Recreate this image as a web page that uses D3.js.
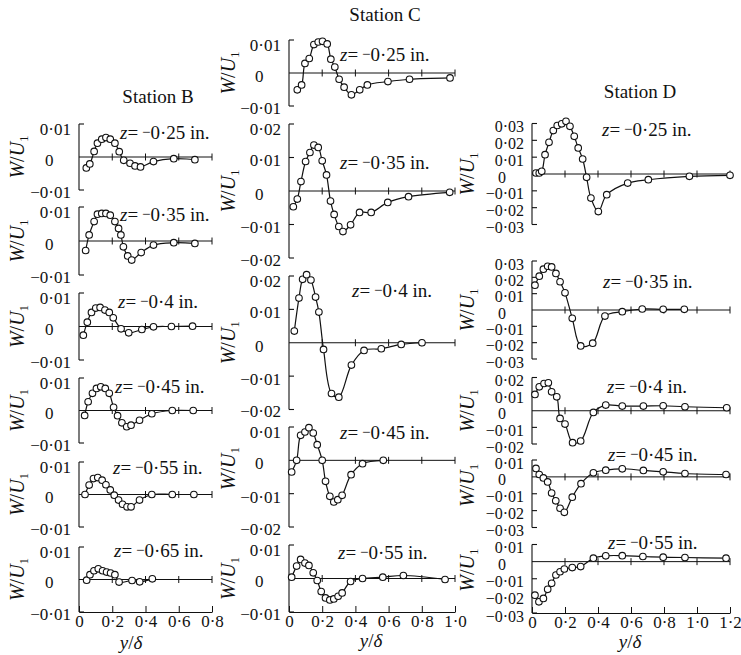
<!DOCTYPE html>
<html>
<head>
<meta charset="utf-8">
<script src="https://cdn.jsdelivr.net/npm/d3@7"></script>
<style>
  html, body { margin: 0; padding: 0; background: #fff; }
  svg, svg text { font-family: "Liberation Serif", "Times New Roman", "DejaVu Serif", serif; }
</style>
</head>
<body>
<svg id="chart" width="741" height="655" font-family="Liberation Serif, Times New Roman, serif"></svg>
<script>
// ---- Measured spanwise velocity profiles W/U1 against y/delta ----
// Each array holds [y/delta, W/U1] pairs for one spanwise position z.

// Station B
const zStationB = [-0.25, -0.35, -0.4, -0.45, -0.55, -0.65];
const stationB_z025 = [[0.044,-0.0033],[0.065,-0.0021],[0.091,0.0017],[0.111,0.0042],[0.137,0.0054],[0.162,0.0059],[0.188,0.0054],[0.216,0.0042],[0.242,0.0016],[0.269,-0.001],[0.307,-0.0019],[0.337,-0.0027],[0.37,-0.003],[0.448,-0.0014],[0.57,-0.0005],[0.697,-0.0008]];
const stationB_z035 = [[0.04,-0.0028],[0.061,0.0018],[0.091,0.0057],[0.111,0.0079],[0.137,0.0081],[0.162,0.0081],[0.188,0.0076],[0.216,0.0057],[0.238,0.0037],[0.252,0.0018],[0.267,-0.0017],[0.293,-0.0044],[0.317,-0.0056],[0.374,-0.0034],[0.448,-0.0012],[0.57,-0.0005],[0.697,-0.0007]];
const stationB_z040 = [[0.026,-0.0026],[0.05,0.0013],[0.075,0.0042],[0.101,0.0055],[0.127,0.0057],[0.156,0.0049],[0.182,0.0042],[0.206,0.0026],[0.253,-0.0007],[0.299,-0.0019],[0.378,-0.0009],[0.448,-0.0001],[0.556,0],[0.683,0.0001]];
const stationB_z045 = [[0.034,-0.0015],[0.055,0.0027],[0.081,0.0053],[0.105,0.0068],[0.131,0.0073],[0.158,0.0068],[0.182,0.0053],[0.208,0.001],[0.232,-0.0016],[0.258,-0.0038],[0.287,-0.005],[0.313,-0.0045],[0.364,-0.003],[0.438,-0.001],[0.561,0],[0.687,0]];
const stationB_z055 = [[0.036,0],[0.061,0.0029],[0.087,0.0049],[0.113,0.0052],[0.139,0.0044],[0.162,0.003],[0.188,0.0014],[0.212,-0.0002],[0.238,-0.0017],[0.262,-0.003],[0.289,-0.0038],[0.313,-0.0038],[0.364,-0.0017],[0.438,0],[0.561,0],[0.691,0]];
const stationB_z065 = [[0.046,-0.0002],[0.066,0.0015],[0.09,0.0027],[0.116,0.0033],[0.142,0.0027],[0.166,0.0023],[0.19,0.002],[0.216,0.0015],[0.241,-0.0008],[0.319,-0.0003],[0.365,-0.0007],[0.441,0.0002]];

// Station C
const zStationC = [-0.25, -0.35, -0.4, -0.45, -0.55];
const stationC_z025 = [[0.05,-0.0051],[0.076,-0.0036],[0.096,0.0029],[0.122,0.0044],[0.15,0.0086],[0.176,0.0094],[0.202,0.0096],[0.23,0.0088],[0.252,0.0042],[0.276,0.0018],[0.302,-0.0019],[0.332,-0.0043],[0.376,-0.0066],[0.426,-0.0051],[0.472,-0.0036],[0.596,-0.0026],[0.726,-0.0019],[0.97,-0.0015]];
const stationC_z035 = [[0.026,-0.0047],[0.05,-0.0024],[0.072,0.0028],[0.1,0.0088],[0.126,0.0115],[0.15,0.0137],[0.176,0.013],[0.2,0.009],[0.226,0.0048],[0.25,-0.003],[0.272,-0.007],[0.3,-0.0106],[0.325,-0.0121],[0.371,-0.0101],[0.425,-0.0064],[0.495,-0.0064],[0.595,-0.0034],[0.72,-0.0017],[0.968,-0.0004]];
const stationC_z040 = [[0.032,0.0035],[0.06,0.0134],[0.082,0.019],[0.106,0.0204],[0.132,0.0188],[0.16,0.0137],[0.18,0.0092],[0.208,-0.002],[0.256,-0.0152],[0.3,-0.0163],[0.376,-0.0067],[0.452,-0.0023],[0.556,-0.0018],[0.676,-0.0005],[0.801,0]];
const stationC_z045 = [[0.016,-0.0035],[0.046,0],[0.07,0.0075],[0.096,0.0085],[0.12,0.0098],[0.146,0.0082],[0.17,0.0047],[0.2,0],[0.22,-0.0063],[0.246,-0.0108],[0.27,-0.0125],[0.294,-0.0118],[0.32,-0.0105],[0.374,-0.0043],[0.443,-0.001],[0.568,0]];
const stationC_z055 = [[0.016,0.0004],[0.046,0.0037],[0.07,0.0057],[0.096,0.0046],[0.12,0.0039],[0.146,0.0017],[0.17,-0.0006],[0.194,-0.0039],[0.22,-0.0058],[0.246,-0.0064],[0.27,-0.0061],[0.296,-0.0053],[0.32,-0.0043],[0.371,-0.0009],[0.443,0],[0.565,0.0004],[0.689,0.0009],[0.94,-0.0003]];

// Station D
const zStationD = [-0.25, -0.35, -0.4, -0.45, -0.55];
const stationD_z025 = [[0.024,0.0006],[0.044,0.0006],[0.059,0.0016],[0.079,0.0115],[0.103,0.0188],[0.129,0.0258],[0.153,0.0288],[0.18,0.0298],[0.206,0.0313],[0.23,0.0283],[0.256,0.0224],[0.28,0.0155],[0.307,0.0089],[0.331,-0.002],[0.357,-0.0143],[0.402,-0.0223],[0.453,-0.0123],[0.58,-0.0054],[0.705,-0.0034],[0.954,-0.0014],[1.2,-0.0008]];
const stationD_z035 = [[0.018,0.0152],[0.044,0.0207],[0.069,0.025],[0.095,0.0268],[0.119,0.0264],[0.145,0.0224],[0.17,0.0173],[0.2,0.0105],[0.244,-0.0051],[0.295,-0.022],[0.368,-0.0203],[0.442,-0.0037],[0.547,-0.001],[0.668,0.0006],[0.795,0.0004],[0.923,0.0004]];
const stationD_z040 = [[0.018,0.0098],[0.044,0.0144],[0.073,0.0164],[0.099,0.0168],[0.119,0.0114],[0.15,0.0084],[0.17,-0.0046],[0.2,-0.008],[0.246,-0.0192],[0.295,-0.0182],[0.372,-0.001],[0.447,0.0034],[0.547,0.0028],[0.675,0.0028],[0.795,0.003],[0.927,0.0024],[1.18,0.0018]];
const stationD_z045 = [[0.024,0.005],[0.044,0.0014],[0.069,-0.0006],[0.095,-0.003],[0.119,-0.0096],[0.144,-0.0142],[0.17,-0.0186],[0.196,-0.021],[0.244,-0.012],[0.297,-0.004],[0.372,0.0024],[0.447,0.004],[0.547,0.0048],[0.675,0.0038],[0.795,0.003],[0.927,0.002],[1.176,0.0014]];
const stationD_z055 = [[0.018,-0.0196],[0.042,-0.0235],[0.069,-0.0215],[0.095,-0.0162],[0.119,-0.0127],[0.145,-0.0078],[0.17,-0.0059],[0.196,-0.0043],[0.244,-0.0035],[0.295,-0.0029],[0.372,0.002],[0.447,0.0034],[0.547,0.0035],[0.672,0.003],[0.795,0.0026],[0.927,0.0024],[1.176,0.002]];

// Tick values
const yTicks01 = [-0.01, 0, 0.01];
const yTicks02 = [-0.02, -0.01, 0, 0.01, 0.02];
const yTicks03 = [-0.03, -0.02, -0.01, 0, 0.01, 0.02, 0.03];
const yTicksC4 = [-0.02, -0.01, 0, 0.01];
const yTicksD45 = [-0.03, -0.02, -0.01, 0, 0.01];
const xTicksB = [0, 0.2, 0.4, 0.6, 0.8];
const xTicksC = [0, 0.2, 0.4, 0.6, 0.8, 1.0];
const xTicksD = [0, 0.2, 0.4, 0.6, 0.8, 1.0, 1.2];

const stationNames = ["Station B", "Station C", "Station D"];

// ---- Layout ----
const FONT = "Liberation Serif, Times New Roman, serif";
const columns = {
  B: { x: [79, 212], xTicks: xTicksB, yLabelX: 18, tickFont: 17, title: stationNames[0], titlePos: [158, 103], xLabelPos: [131, 649] },
  C: { x: [289, 455], xTicks: xTicksC, yLabelX: 229, tickFont: 17, title: stationNames[1], titlePos: [385, 21], xLabelPos: [371, 647] },
  D: { x: [532, 730], xTicks: xTicksD, yLabelX: 468, tickFont: 16, title: stationNames[2], titlePos: [640, 98], xLabelPos: [630, 648] }
};

const panels = [
  { col: "B", z: zStationB[0], data: stationB_z025, ticks: yTicks01, yPx: [190, 124], zPos: [120, 139] },
  { col: "B", z: zStationB[1], data: stationB_z035, ticks: yTicks01, yPx: [275, 207], zPos: [120, 221] },
  { col: "B", z: zStationB[2], data: stationB_z040, ticks: yTicks01, yPx: [360, 293], zPos: [118, 308] },
  { col: "B", z: zStationB[3], data: stationB_z045, ticks: yTicks01, yPx: [443, 378], zPos: [115, 393] },
  { col: "B", z: zStationB[4], data: stationB_z055, ticks: yTicks01, yPx: [527, 462], zPos: [113, 474] },
  { col: "B", z: zStationB[5], data: stationB_z065, ticks: yTicks01, yPx: [612, 547], zPos: [114, 557], bottom: true },

  { col: "C", z: zStationC[0], data: stationC_z025, ticks: yTicks01, yPx: [106, 40], zPos: [340, 61] },
  { col: "C", z: zStationC[1], data: stationC_z035, ticks: yTicks02, yPx: [258, 124], zPos: [340, 169] },
  { col: "C", z: zStationC[2], data: stationC_z040, ticks: yTicks02, yPx: [409.5, 276], zPos: [352, 297] },
  { col: "C", z: zStationC[3], data: stationC_z045, ticks: yTicksC4, yPx: [527, 427], zPos: [340, 439] },
  { col: "C", z: zStationC[4], data: stationC_z055, ticks: yTicks01, yPx: [612, 545], zPos: [338, 559], bottom: true },

  { col: "D", z: zStationD[0], data: stationD_z025, ticks: yTicks03, yPx: [224.5, 123.5], zPos: [602, 136] },
  { col: "D", z: zStationD[1], data: stationD_z035, ticks: yTicks03, yPx: [359, 261], zPos: [603, 288] },
  { col: "D", z: zStationD[2], data: stationD_z040, ticks: yTicks02, yPx: [444, 377.5], zPos: [607, 393] },
  { col: "D", z: zStationD[3], data: stationD_z045, ticks: yTicksD45, yPx: [527.5, 460], zPos: [608, 461] },
  { col: "D", z: zStationD[4], data: stationD_z055, ticks: yTicksD45, yPx: [613, 544.5], zPos: [608, 549], bottom: true }
];

// ---- Formatting helpers ----
const MINUS = "\u2212";
const fmtY = v => v === 0 ? "0" : (v < 0 ? MINUS : "") + Math.abs(v).toFixed(2).replace(".", "\u00b7");
const fmtX = v => v === 0 ? "0" : v.toFixed(1).replace(".", "\u00b7");
const fmtZ = v => String(Math.abs(v)).replace(".", "\u00b7");

const svg = d3.select("#chart");
svg.append("rect").attr("width", 741).attr("height", 655).attr("fill", "#fff");
const root = svg.append("g").attr("font-family", FONT);

const INK = "#111";

// Column titles and x-axis captions
Object.values(columns).forEach(c => {
  root.append("text")
    .attr("x", c.titlePos[0]).attr("y", c.titlePos[1])
    .attr("text-anchor", "middle")
    .attr("font-size", 19).attr("fill", INK)
    .text(c.title);

  const xl = root.append("text")
    .attr("x", c.xLabelPos[0]).attr("y", c.xLabelPos[1])
    .attr("text-anchor", "middle")
    .attr("font-size", 19).attr("fill", INK);
  xl.append("tspan").attr("font-style", "italic").text("y");
  xl.append("tspan").text("/");
  xl.append("tspan").attr("font-style", "italic").text("\u03b4");
});

const curve = d3.curveCatmullRom.alpha(0.5);

panels.forEach(p => {
  const c = columns[p.col];
  const xMax = c.xTicks[c.xTicks.length - 1];
  const x = d3.scaleLinear().domain([0, xMax]).range(c.x);
  const [yLo, yHi] = d3.extent(p.ticks);
  const y = d3.scaleLinear().domain([yLo, yHi]).range(p.yPx);
  const g = root.append("g");
  const x0 = c.x[0];
  const y0 = y(0);

  // vertical axis bracket with inward ticks
  g.append("line")
    .attr("x1", x0).attr("x2", x0)
    .attr("y1", y(yHi)).attr("y2", y(yLo))
    .attr("stroke", INK).attr("stroke-width", 1.1);
  g.selectAll("line.ytick").data(p.ticks.filter(t => t !== 0)).join("line")
    .attr("class", "ytick")
    .attr("x1", x0).attr("x2", x0 + 5)
    .attr("y1", d => y(d)).attr("y2", d => y(d))
    .attr("stroke", INK).attr("stroke-width", 1.1);

  // tick labels: signed values right aligned, zero set under the leading digit;
  // on sparse axes the end labels are nudged apart from the neighbouring panel
  const spacing = Math.abs(y(p.ticks[1]) - y(p.ticks[0]));
  const labelShift = d => spacing < 25 ? 3 : (d === yHi ? 5 : (d === yLo ? 2 : 3));
  g.selectAll("text.ylab").data(p.ticks).join("text")
    .attr("class", "ylab")
    .attr("x", d => d === 0 ? x0 - 34 : x0 - 8)
    .attr("y", d => y(d) + labelShift(d))
    .attr("dy", "0.35em")
    .attr("text-anchor", d => d === 0 ? "start" : "end")
    .attr("font-size", c.tickFont).attr("fill", INK)
    .text(fmtY);

  // zero reference line with small cross ticks
  g.append("line")
    .attr("x1", x0).attr("x2", x(xMax))
    .attr("y1", y0).attr("y2", y0)
    .attr("stroke", INK).attr("stroke-width", 1);
  g.selectAll("line.ztick").data(c.xTicks.filter(t => t > 0)).join("line")
    .attr("class", "ztick")
    .attr("x1", d => x(d)).attr("x2", d => x(d))
    .attr("y1", y0 - 3.5).attr("y2", y0 + 3.5)
    .attr("stroke", INK).attr("stroke-width", 1);

  // bottom x axis for the lowest panel of each column
  if (p.bottom) {
    const ax = d3.axisBottom(x)
      .tickValues(c.xTicks)
      .tickSizeInner(-6).tickSizeOuter(0)
      .tickPadding(3)
      .tickFormat(fmtX);
    const axg = g.append("g")
      .attr("transform", `translate(0,${y(yLo)})`)
      .call(ax);
    axg.attr("font-family", FONT).attr("font-size", 17);
    axg.select(".domain").attr("stroke", INK).attr("stroke-width", 1.1);
    axg.selectAll(".tick line").attr("stroke", INK).attr("stroke-width", 1);
    axg.selectAll(".tick text").attr("font-size", 17).attr("fill", INK);
  }

  // profile curve and measured points
  const line = d3.line().x(d => x(d[0])).y(d => y(d[1])).curve(curve);
  g.append("path")
    .datum(p.data)
    .attr("d", line)
    .attr("fill", "none").attr("stroke", INK).attr("stroke-width", 1.2);
  g.selectAll("circle").data(p.data).join("circle")
    .attr("cx", d => x(d[0])).attr("cy", d => y(d[1]))
    .attr("r", 3.3)
    .attr("fill", "#fff").attr("stroke", INK).attr("stroke-width", 1.1);

  // spanwise position label
  const zt = g.append("text")
    .attr("x", p.zPos[0]).attr("y", p.zPos[1])
    .attr("font-size", 19).attr("fill", INK);
  zt.append("tspan").attr("font-style", "italic").text("z");
  zt.append("tspan").text("=\u2009");
  zt.append("tspan").attr("dy", -2).attr("font-size", 15).text(MINUS);
  zt.append("tspan").attr("dy", 2).text(fmtZ(p.z) + " in.");

  // rotated axis title
  const mid = (p.yPx[0] + p.yPx[1]) / 2;
  const cy = (mid + y0) / 2;
  const yt = g.append("text")
    .attr("transform", `translate(${c.yLabelX + 6},${cy}) rotate(-90)`)
    .attr("text-anchor", "middle")
    .attr("font-size", 20).attr("fill", INK);
  yt.append("tspan").attr("font-style", "italic").text("W");
  yt.append("tspan").text("/");
  yt.append("tspan").attr("font-style", "italic").text("U");
  yt.append("tspan").attr("font-size", 13).attr("dy", 4).text("1");
});
</script>
</body>
</html>
